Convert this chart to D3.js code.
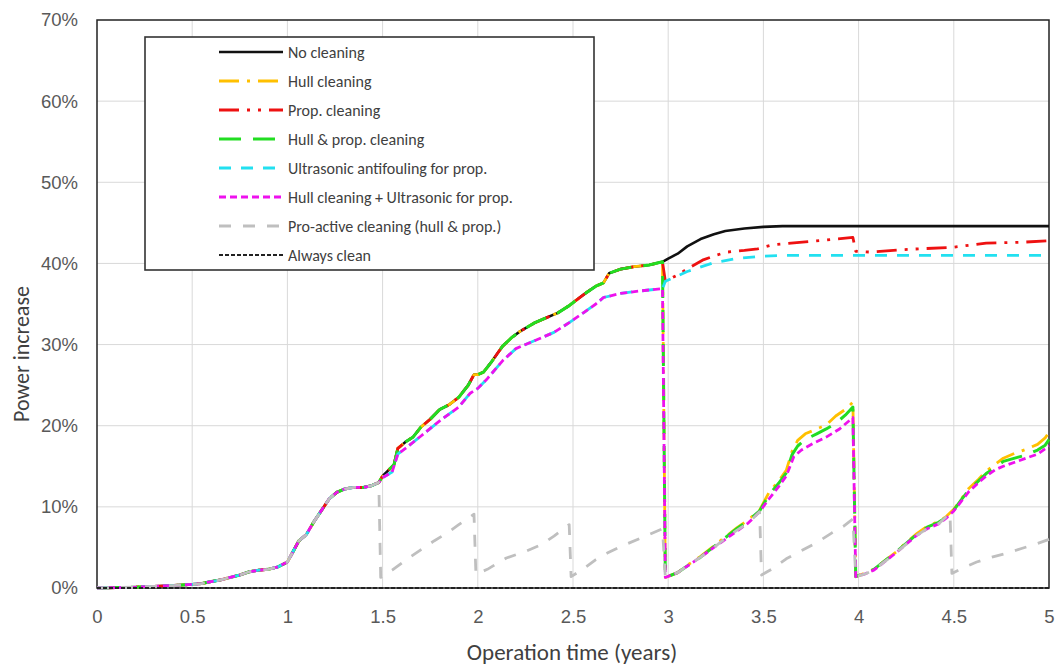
<!DOCTYPE html>
<html>
<head>
<meta charset="utf-8">
<script src="https://cdn.jsdelivr.net/npm/d3@7"></script>
<style>
  body { margin: 0; background: #fff; }
  svg { font-family: Carlito, Lato, "Liberation Sans", sans-serif; }
  .grid line { stroke: #d9d9d9; stroke-width: 1; }
  .tick-label { fill: #595959; font-size: 18.5px; }
  .legend-text { fill: #404040; font-size: 16px; }
</style>
</head>
<body>
<svg id="chart"></svg>
<script>
// tick values
var xTicks = [0, 0.5, 1, 1.5, 2, 2.5, 3, 3.5, 4, 4.5, 5];
var yTicks = [0, 10, 20, 30, 40, 50, 60, 70];

// common part of all curves, before the first cleaning (years, % power increase)
var earlyPart = [[0,0],[0.1,0.05],[0.2,0.1],[0.3,0.2],[0.4,0.3],[0.5,0.45],[0.55,0.55],[0.6,0.8],
  [0.65,1.0],[0.7,1.3],[0.75,1.6],[0.8,2.0],[0.85,2.2],[0.9,2.3],[0.95,2.6],[1.0,3.2],[1.03,4.5],
  [1.06,5.8],[1.1,6.6],[1.14,8.2],[1.18,9.6],[1.22,11.0],[1.26,11.8],[1.3,12.2],[1.35,12.4],
  [1.4,12.4],[1.44,12.6],[1.48,13.0]];

// fouled hull + fouled propeller, 1.5 - 3 years
var upperMid = [[1.5,13.8],[1.53,14.5],[1.56,15.2],[1.58,17.2],[1.62,18.0],[1.66,18.6],[1.7,19.8],
  [1.75,20.8],[1.8,22.0],[1.85,22.6],[1.9,23.5],[1.95,25.0],[1.98,26.3],[2.0,26.3],[2.03,26.6],
  [2.07,27.8],[2.1,28.8],[2.13,29.8],[2.18,30.9],[2.22,31.6],[2.3,32.7],[2.36,33.3],[2.42,33.9],
  [2.48,34.8],[2.53,35.7],[2.57,36.4],[2.62,37.2],[2.66,37.6],[2.69,38.8],[2.75,39.3],[2.82,39.6],
  [2.9,39.8],[2.97,40.2]];

// with ultrasonic antifouling on propeller, 1.5 - 3 years
var lowerMid = [[1.5,13.6],[1.55,14.3],[1.58,16.5],[1.62,17.2],[1.7,18.7],[1.8,20.6],[1.9,22.3],
  [1.96,24.0],[2.0,24.6],[2.05,25.8],[2.13,28.0],[2.2,29.5],[2.31,30.6],[2.4,31.5],[2.48,32.7],
  [2.56,34.0],[2.62,35.0],[2.66,35.8],[2.75,36.3],[2.85,36.6],[2.97,36.9]];

var noCleaningLate = [[3.0,40.6],[3.05,41.2],[3.1,42.1],[3.17,43.0],[3.24,43.6],[3.3,44.0],
  [3.4,44.3],[3.5,44.5],[3.6,44.6],[4.0,44.6],[5.0,44.6]];

var hullLate = [[2.985,1.3],[3.05,1.9],[3.1,2.8],[3.17,3.9],[3.24,5.2],[3.3,6.3],[3.36,7.4],
  [3.42,8.4],[3.48,9.6],[3.53,11.8],[3.58,13.2],[3.62,14.5],[3.65,16.8],[3.68,18.2],[3.72,19.0],
  [3.78,19.6],[3.83,20.1],[3.88,21.2],[3.93,22.0],[3.97,22.9],[3.985,1.4],[4.03,1.8],[4.08,2.3],
  [4.14,3.4],[4.2,4.5],[4.25,5.6],[4.3,6.6],[4.36,7.6],[4.42,8.2],[4.46,8.8],[4.5,9.7],[4.54,11.0],
  [4.58,12.3],[4.63,13.4],[4.67,14.4],[4.72,15.3],[4.76,16.0],[4.82,16.6],[4.88,17.1],[4.94,17.7],
  [4.98,18.5],[5.0,19.2]];

var propLate = [[2.985,37.8],[3.05,38.6],[3.12,39.6],[3.18,40.4],[3.25,41.0],[3.31,41.4],[3.4,41.6],
  [3.47,41.8],[3.55,42.3],[3.69,42.6],[3.83,42.9],[3.97,43.2],[3.985,41.5],[4.06,41.4],[4.23,41.7],
  [4.5,42.0],[4.67,42.5],[4.85,42.6],[5.0,42.8]];

var hullPropLate = [[2.985,1.3],[3.05,1.9],[3.1,2.7],[3.17,3.8],[3.24,5.1],[3.3,6.2],[3.36,7.3],
  [3.42,8.3],[3.48,9.5],[3.53,11.5],[3.58,12.9],[3.62,14.2],[3.65,16.4],[3.68,17.5],[3.72,18.3],
  [3.78,19.0],[3.83,19.6],[3.88,20.3],[3.93,21.3],[3.97,22.3],[3.985,1.4],[4.03,1.8],[4.08,2.3],
  [4.14,3.4],[4.2,4.5],[4.25,5.5],[4.3,6.5],[4.36,7.5],[4.42,8.1],[4.46,8.7],[4.5,9.6],[4.54,10.9],
  [4.58,12.1],[4.63,13.2],[4.67,14.1],[4.72,14.9],[4.76,15.6],[4.82,16.0],[4.88,16.4],[4.94,17.0],
  [4.98,17.6],[5.0,18.3]];

var ultrasonicLate = [[2.985,37.8],[3.1,39.0],[3.24,40.1],[3.36,40.6],[3.5,40.9],[3.6,41.0],[5.0,41.0]];

var hullUltraLate = [[2.985,1.3],[3.05,1.9],[3.1,2.7],[3.17,3.8],[3.24,5.0],[3.3,6.0],[3.36,7.0],
  [3.42,8.0],[3.48,9.4],[3.53,11.0],[3.58,12.5],[3.62,13.8],[3.66,16.2],[3.7,17.0],[3.76,17.8],
  [3.83,18.6],[3.9,19.6],[3.97,21.0],[3.985,1.4],[4.03,1.7],[4.08,2.2],[4.14,3.3],[4.2,4.4],
  [4.25,5.4],[4.3,6.4],[4.36,7.3],[4.42,7.9],[4.46,8.6],[4.5,9.5],[4.54,10.7],[4.58,11.9],
  [4.63,13.0],[4.67,13.8],[4.72,14.6],[4.76,15.0],[4.82,15.5],[4.88,16.0],[4.94,16.5],[5.0,17.5]];

var proActiveLate = [[1.49,1.3],[1.55,2.2],[1.62,3.4],[1.7,4.7],[1.77,5.8],[1.84,6.8],[1.9,7.8],
  [1.98,9.1],[1.99,1.7],[2.05,2.3],[2.15,3.7],[2.25,4.5],[2.33,5.3],[2.4,6.4],[2.48,7.8],[2.49,1.4],
  [2.55,2.3],[2.62,3.5],[2.68,4.3],[2.75,5.1],[2.85,6.1],[2.97,7.3],[2.985,1.3],[3.05,1.9],[3.1,2.7],
  [3.17,3.8],[3.24,5.0],[3.3,6.1],[3.36,7.1],[3.42,8.0],[3.48,9.4],[3.49,1.6],[3.55,2.4],[3.62,3.6],
  [3.7,4.6],[3.78,5.6],[3.86,6.8],[3.92,7.6],[3.97,8.5],[3.985,1.4],[4.03,1.7],[4.08,2.2],[4.14,3.3],
  [4.2,4.4],[4.25,5.4],[4.3,6.4],[4.36,7.3],[4.42,7.9],[4.48,9.2],[4.49,1.8],[4.55,2.5],[4.62,3.2],
  [4.7,3.8],[4.78,4.3],[4.86,4.9],[4.93,5.4],[5.0,6.0]];

var alwaysClean = [[0,0],[5,0]];

var seriesNames = ["No cleaning", "Hull cleaning", "Prop. cleaning", "Hull & prop. cleaning",
  "Ultrasonic antifouling for prop.", "Hull cleaning + Ultrasonic for prop.",
  "Pro-active cleaning (hull & prop.)", "Always clean"];

var series = [
  { name: seriesNames[0], values: earlyPart.concat(upperMid, noCleaningLate), color: "#111111", width: 2.6, dash: null },
  { name: seriesNames[1], values: earlyPart.concat(upperMid, hullLate), color: "#ffc000", width: 2.8, dash: "20,8,3,8" },
  { name: seriesNames[2], values: earlyPart.concat(upperMid, propLate), color: "#ee1111", width: 2.8, dash: "20,8,3,8,3,8" },
  { name: seriesNames[3], values: earlyPart.concat(upperMid, hullPropLate), color: "#22dd22", width: 3, dash: "22,12" },
  { name: seriesNames[4], values: earlyPart.concat(lowerMid, ultrasonicLate), color: "#22e0f0", width: 2.8, dash: "12,10" },
  { name: seriesNames[5], values: earlyPart.concat(lowerMid, hullUltraLate), color: "#ee11ee", width: 2.8, dash: "7,4" },
  { name: seriesNames[6], values: earlyPart.concat(proActiveLate), color: "#bfbfbf", width: 2.8, dash: "12,12" },
  { name: seriesNames[7], values: alwaysClean, color: "#222222", width: 1.8, dash: "4,2" }
];

var margin = {top: 20, right: 8, bottom: 78, left: 97};
var totalW = 1057, totalH = 666;
var width = totalW - margin.left - margin.right;
var height = totalH - margin.top - margin.bottom;

var svg = d3.select("#chart")
    .attr("width", totalW)
    .attr("height", totalH);

svg.append("rect").attr("width", totalW).attr("height", totalH).attr("fill", "#fff");

var g = svg.append("g")
    .attr("transform", "translate(" + margin.left + "," + margin.top + ")");

var x = d3.scaleLinear().domain([0, 5]).range([0, width]);
var y = d3.scaleLinear().domain([0, 70]).range([height, 0]);

// grid
var grid = g.append("g").attr("class", "grid");
grid.selectAll(".vg").data(xTicks.slice(1, -1)).enter().append("line")
    .attr("x1", d => x(d)).attr("x2", d => x(d))
    .attr("y1", 0).attr("y2", height);
grid.selectAll(".hg").data(yTicks.slice(1, -1)).enter().append("line")
    .attr("x1", 0).attr("x2", width)
    .attr("y1", d => y(d)).attr("y2", d => y(d));

// frame
g.append("rect")
    .attr("width", width).attr("height", height)
    .attr("fill", "none").attr("stroke", "#222").attr("stroke-width", 1.5);

// axes (labels only, Excel style)
var xAxis = g.append("g")
    .attr("transform", "translate(0," + height + ")")
    .call(d3.axisBottom(x).tickValues(xTicks).tickSize(0).tickPadding(22).tickFormat(d3.format("")));
var yAxis = g.append("g")
    .call(d3.axisLeft(y).tickValues(yTicks).tickSize(0).tickPadding(19).tickFormat(d => d + "%"));
[xAxis, yAxis].forEach(function(a) {
  a.select(".domain").remove();
  a.selectAll("text").attr("class", "tick-label").attr("font-family", null).attr("font-size", null);
});

// lines
var line = d3.line()
    .x(d => x(d[0]))
    .y(d => y(d[1]));

g.selectAll(".series").data(series).enter().append("path")
    .attr("class", "series")
    .attr("fill", "none")
    .attr("stroke", d => d.color)
    .attr("stroke-width", d => d.width)
    .attr("stroke-dasharray", d => d.dash)
    .attr("stroke-linejoin", "round")
    .attr("d", d => line(d.values));

// legend
var legend = svg.append("g").attr("transform", "translate(145,37)");
legend.append("rect")
    .attr("width", 449).attr("height", 233)
    .attr("fill", "#fff").attr("stroke", "#333").attr("stroke-width", 1.6);

var rows = legend.selectAll(".lg").data(series).enter().append("g")
    .attr("transform", (d, i) => "translate(0," + (15 + i * 29) + ")");
rows.append("line")
    .attr("x1", 74).attr("x2", 138)
    .attr("stroke", d => d.color)
    .attr("stroke-width", d => d.width)
    .attr("stroke-dasharray", d => d.dash);
rows.append("text")
    .attr("class", "legend-text")
    .attr("x", 143).attr("dy", "0.35em")
    .text(d => d.name);

// axis titles
svg.append("text")
    .attr("x", 572).attr("y", 660)
    .attr("text-anchor", "middle")
    .attr("fill", "#404040").style("font-size", "23px")
    .text("Operation time (years)");

svg.append("text")
    .attr("transform", "translate(29,354) rotate(-90)")
    .attr("text-anchor", "middle")
    .attr("fill", "#404040").style("font-size", "22px")
    .text("Power increase");
</script>
</body>
</html>
